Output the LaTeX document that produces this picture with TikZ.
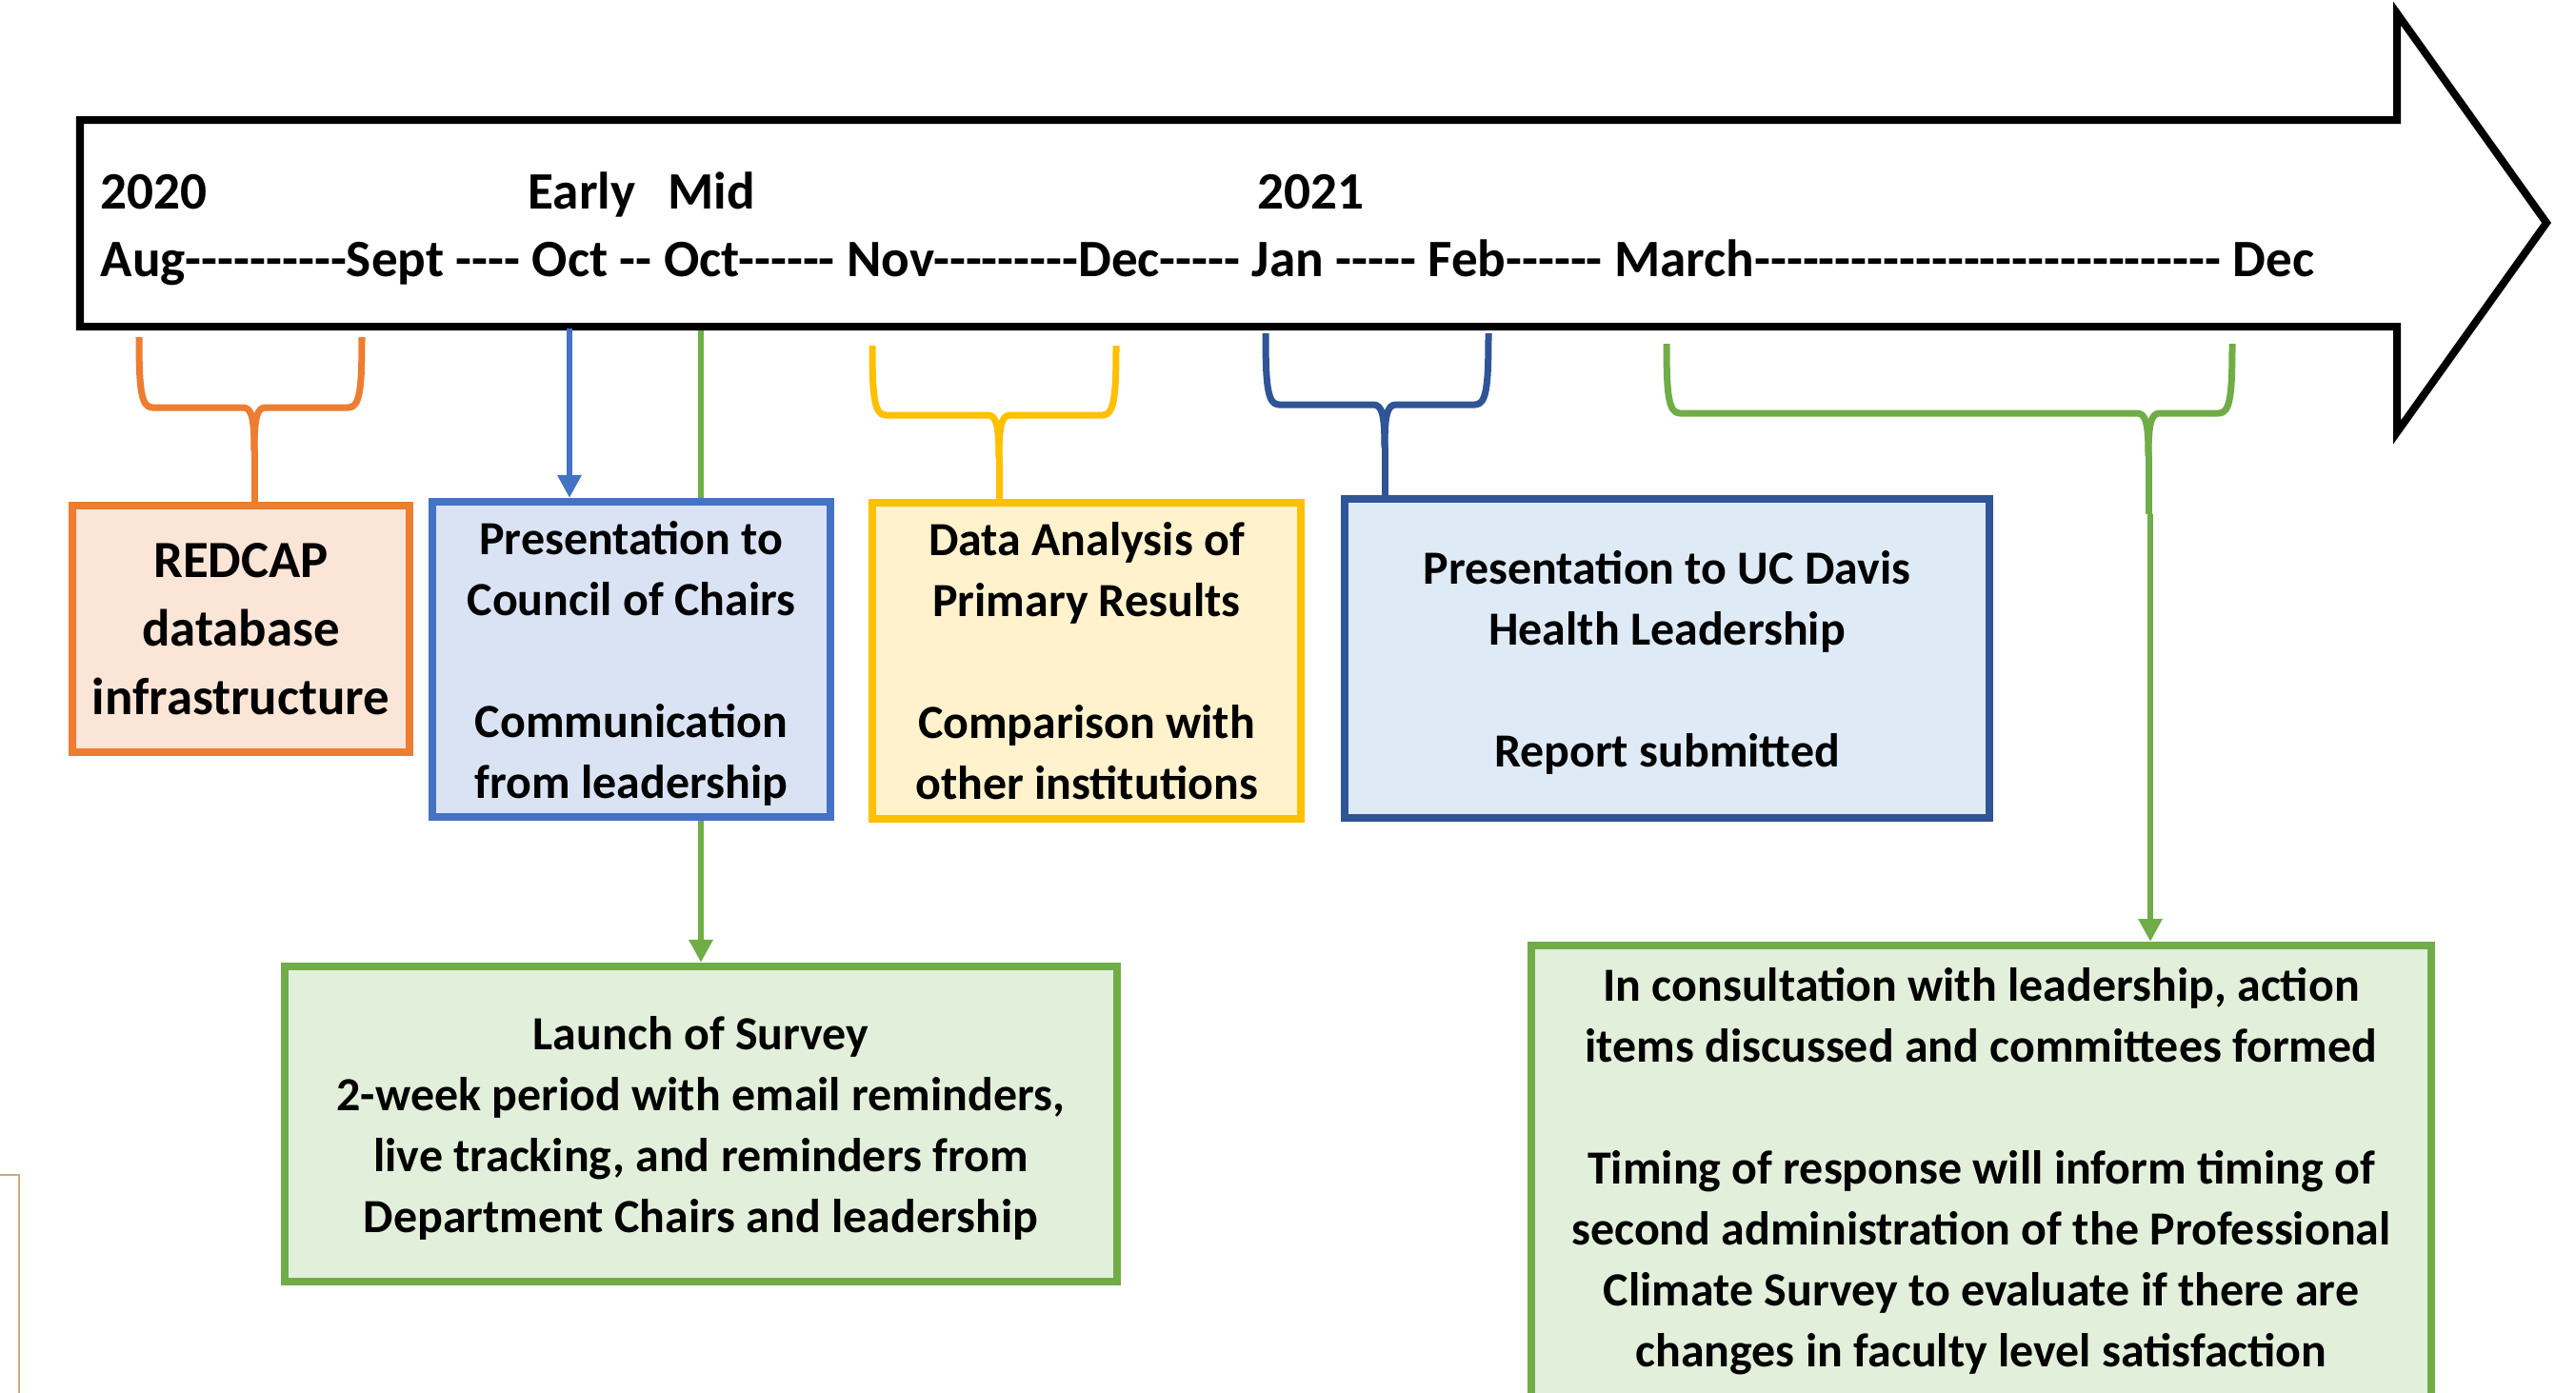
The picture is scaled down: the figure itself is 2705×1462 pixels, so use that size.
\documentclass[tikz,border=0pt]{standalone}
\usepackage{fontspec}
\setmainfont{Carlito}[Ligatures=TeXOff]
\usetikzlibrary{arrows.meta}

\definecolor{orangeline}{HTML}{ED7D31}
\definecolor{orangefill}{HTML}{FBE5D6}
\definecolor{blueline}{HTML}{4472C4}
\definecolor{bluefill}{HTML}{DAE3F3}
\definecolor{yellowline}{HTML}{FFC000}
\definecolor{yellowfill}{HTML}{FFF2CC}
\definecolor{navyline}{HTML}{2F5597}
\definecolor{navyfill}{HTML}{DEEBF7}
\definecolor{greenline}{HTML}{70AD47}
\definecolor{greenfill}{HTML}{E2EFDA}
\definecolor{tanline}{HTML}{D9A67A}

% curly brace hanging under the timeline: left x, right x, mid x, top y, bar y
\newcommand{\tlbrace}[5]{%
  \draw (#1,#4) .. controls (#1,#5-20) and (#1+2,#5) .. (#1+14,#5)
        -- (#3-12,#5) .. controls (#3-3,#5) and (#3,#5+10) .. (#3,#5+45);
  \draw (#2,#4) .. controls (#2,#5-20) and (#2-2,#5) .. (#2-14,#5)
        -- (#3+12,#5) .. controls (#3+3,#5) and (#3,#5+10) .. (#3,#5+45);
}

\begin{document}
\begin{tikzpicture}[x=0.01cm, y=-0.01cm, >={Triangle[length=0.24cm, width=0.24cm]},
  box/.style={draw, line width=0.08cm, align=center, inner sep=0pt, text depth=0pt,
    font=\bfseries\fontsize{14.2}{18.2}\selectfont},
  boxtext/.style={align=center, inner sep=0pt, font=\bfseries\fontsize{14.2}{18.2}\selectfont},
  tltext/.style={anchor=base west, inner sep=0pt, font=\bfseries\fontsize{15.7}{20}\selectfont},
  brace/.style={line width=0.07cm, line join=round},
  link/.style={line width=0.065cm}]
  \useasboundingbox (0,0) rectangle (2705,1462);
  \clip (0,0) rectangle (2705,1462);

  % timeline arrow
  \draw[line width=0.08cm, fill=white] (84,126) -- (2517,126) -- (2517,14) -- (2674,234)
    -- (2517,454) -- (2517,343) -- (84,343) -- cycle;
  \node[tltext] (y2020) at (105,219) {2020};
  \node[tltext] (early) at (554,219) {Early};
  \node[tltext] (mid) at (701,219) {Mid};
  \node[tltext] (y2021) at (1320,219) {2021};
  \node[tltext] (months) at (105,290)
    {Aug----------Sept ---- Oct -- Oct------ Nov---------Dec----- Jan ----- Feb------ March----------------------------- Dec};

  % boxes
  \node[box, draw=orangeline, fill=orangefill, minimum width=3.54cm, minimum height=2.59cm,
    font=\bfseries\fontsize{15.6}{20.5}\selectfont] (redcap) at (253,660.5)
    {REDCAP\\database\\infrastructure};
  \node[box, draw=blueline, fill=bluefill, minimum width=4.18cm, minimum height=3.31cm]
    (council) at (663,692.5)
    {Presentation to\\Council of Chairs\\[\baselineskip]Communication\\from leadership};
  \node[box, draw=yellowline, fill=yellowfill, minimum width=4.5cm, minimum height=3.32cm]
    (analysis) at (1141,694)
    {Data Analysis of\\Primary Results\\[\baselineskip]Comparison with\\other institutions};
  \node[box, draw=navyline, fill=navyfill, minimum width=6.77cm, minimum height=3.35cm]
    (ucdavis) at (1750.5,691.5)
    {Presentation to UC Davis\\Health Leadership\\[\baselineskip]Report submitted};
  \node[box, draw=greenline, fill=greenfill, minimum width=8.74cm, minimum height=3.31cm]
    (launch) at (736,1180.5)
    {Launch of Survey\\2-week period with email reminders,\\live tracking, and reminders from\\Department Chairs and leadership};
  \node[box, draw=greenline, fill=greenfill, minimum width=9.45cm, minimum height=5cm,
    anchor=north] (action) at (2080.5,989) {};
  \node[boxtext, anchor=north] (actiontext) at (2080.5,1016)
    {In consultation with leadership, action\\items discussed and committees formed\\[\baselineskip]
     Timing of response will inform timing of\\second administration of the Professional\\
     Climate Survey to evaluate if there are\\changes in faculty level satisfaction};

  % braces
  \begin{scope}[brace, draw=orangeline]
    \tlbrace{146}{380}{267}{354}{428}
    \coordinate (augstem) at (267,473);
    \draw (augstem) -- (augstem |- redcap.north);
  \end{scope}
  \begin{scope}[brace, draw=yellowline]
    \tlbrace{916}{1172}{1049}{363}{436}
    \coordinate (novstem) at (1049,481);
    \draw (novstem) -- (novstem |- analysis.north);
  \end{scope}
  \begin{scope}[brace, draw=navyline]
    \tlbrace{1329}{1563}{1454}{350}{425}
    \coordinate (janstem) at (1454,470);
    \draw (janstem) -- (janstem |- ucdavis.north);
  \end{scope}
  \begin{scope}[brace, draw=greenline]
    \tlbrace{1750}{2344}{2256}{361}{434}
    \coordinate (marstem) at (2256,479);
    \coordinate (marend) at (2256,540);
    \draw (marstem) -- (marend);
  \end{scope}

  % connectors
  \coordinate (earlyoct) at (598,345);
  \coordinate (midoct) at (736,347);
  \draw[link, blueline, ->] (earlyoct) -- (earlyoct |- council.north);
  \draw[link, greenline] (midoct) -- (midoct |- council.north);
  \draw[link, greenline, ->] (midoct |- council.south) -- (midoct |- launch.north);
  \draw[link, greenline, ->] ([xshift=0.02cm]marend) -- ([xshift=0.02cm]marend |- action.north);

  % corner of a shape cut off at the lower left
  \draw[tanline, line width=0.025cm] (0,1234) -- (20,1234) -- (20,1470);
\end{tikzpicture}
\end{document}
